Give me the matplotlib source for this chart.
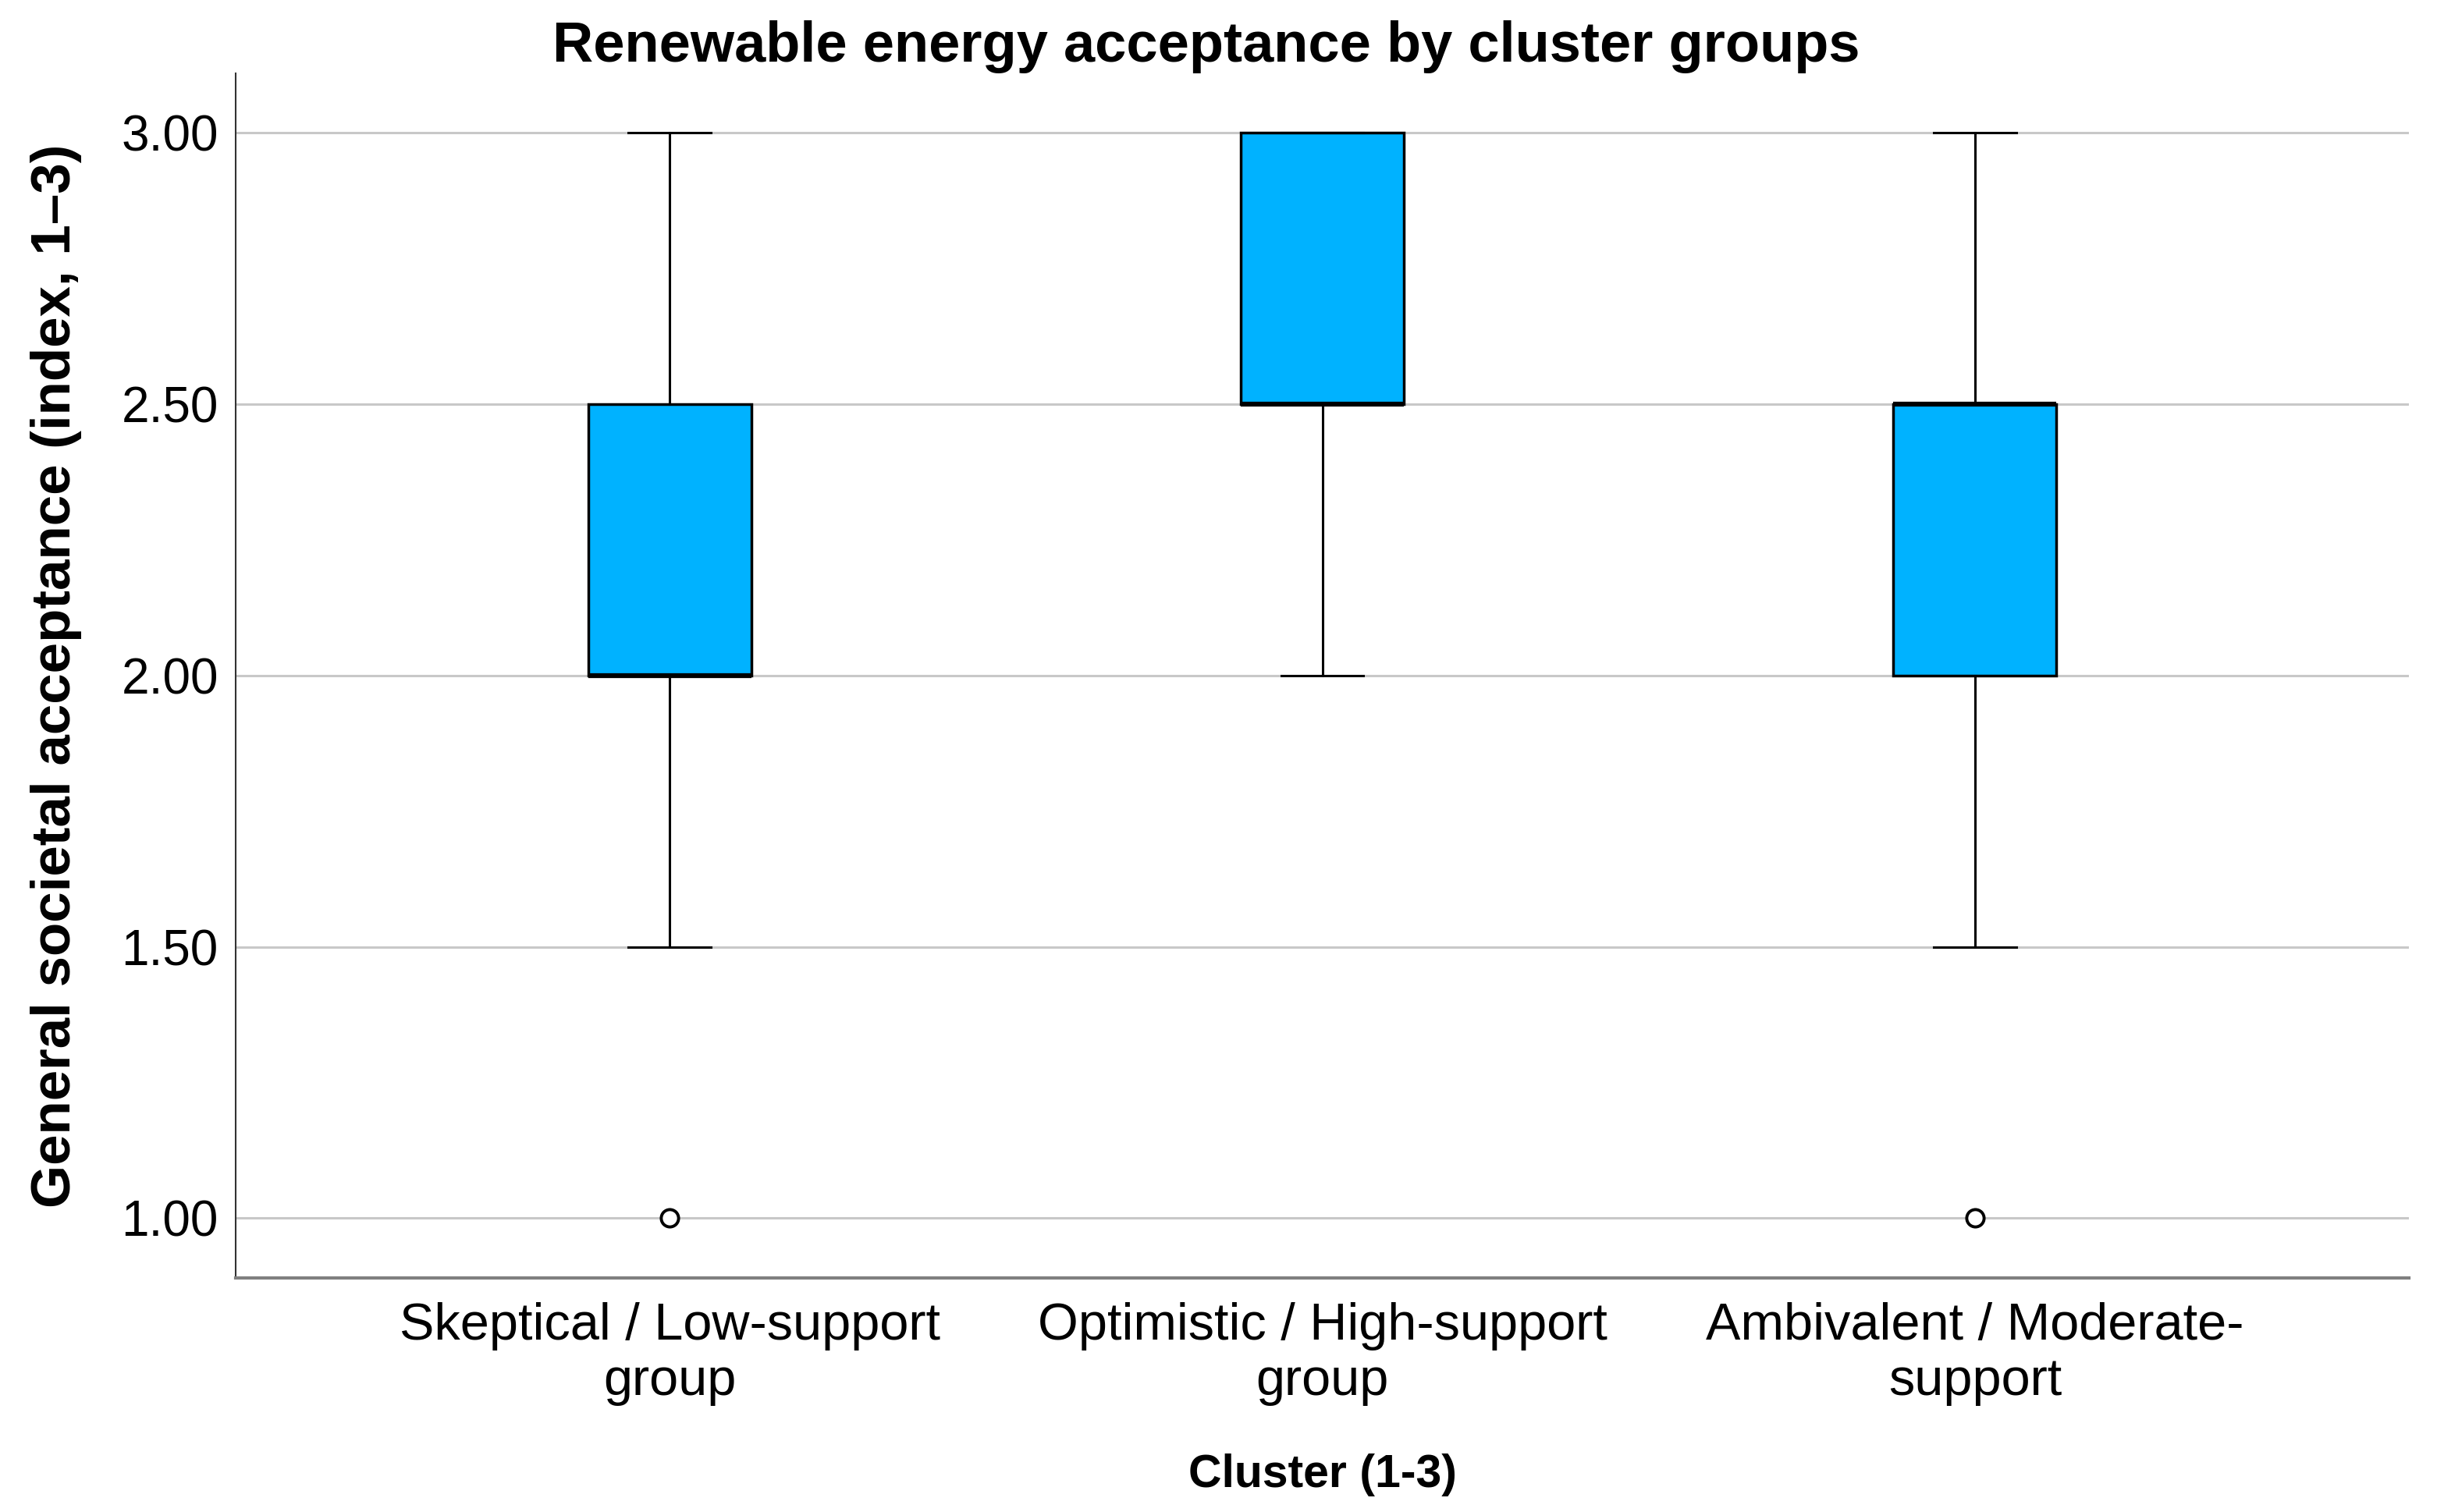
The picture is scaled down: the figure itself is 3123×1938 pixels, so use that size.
import matplotlib
matplotlib.use("Agg")
from matplotlib import pyplot as plt

plt.rcParams['font.family'] = ['Liberation Sans', 'DejaVu Sans']

groups = ["Skeptical / Low-support\ngroup", "Optimistic / High-support\ngroup", "Ambivalent / Moderate-\nsupport"]
whisker_low = [1.5, 2.0, 1.5]
q1 = [2.0, 2.5, 2.0]
median = [2.0, 2.5, 2.5]
q3 = [2.5, 3.0, 2.5]
whisker_high = [3.0, 3.0, 3.0]
outliers = [[1.0], [], [1.0]]
yticks = [1.0, 1.5, 2.0, 2.5, 3.0]

stats = []
for i in range(len(groups)):
    stats.append({"whislo": whisker_low[i], "q1": q1[i], "med": median[i],
                  "q3": q3[i], "whishi": whisker_high[i], "fliers": outliers[i]})

fig = plt.figure(figsize=(31.23, 19.38), dpi=100)
ax = fig.add_axes([0.0967, 0.1548, 0.8918, 0.7967])

ax.set_axisbelow(True)
ax.yaxis.grid(True, color="#c8c8c8", linewidth=2.2)

ax.bxp(stats, positions=[1, 2, 3], widths=0.25, patch_artist=True,
       boxprops=dict(facecolor="#00b2ff", edgecolor="black", linewidth=2.5),
       medianprops=dict(color="black", linewidth=4.5),
       whiskerprops=dict(color="black", linewidth=2.2),
       capprops=dict(color="black", linewidth=2.2),
       capwidths=0.126,
       flierprops=dict(marker="o", markersize=16, markerfacecolor="white",
                       markeredgecolor="black", markeredgewidth=2.8))

ax.set_xlim(0.335, 3.665)
ax.set_ylim(0.89, 3.109)
ax.set_yticks(yticks)
ax.set_yticklabels([f"{v:.2f}" for v in yticks])
ax.set_xticks([1, 2, 3])
ax.set_xticklabels(groups)
ax.tick_params(axis="y", length=0, pad=16, labelsize=46)
ax.tick_params(axis="x", length=0, pad=22, labelsize=48)

for s in ["top", "right"]:
    ax.spines[s].set_visible(False)
ax.spines["left"].set_color("#333333")
ax.spines["left"].set_linewidth(1.5)
ax.spines["bottom"].set_color("#808080")
ax.spines["bottom"].set_linewidth(3)

ax.set_ylabel("General societal acceptance (index, 1–3)", fontsize=51, fontweight="bold", labelpad=36)
ax.set_xlabel("Cluster (1-3)", fontsize=42.5, fontweight="bold", labelpad=44)
fig.text(0.495, 0.969, "Renewable energy acceptance by cluster groups",
         ha="center", va="center", fontsize=52, fontweight="bold")

fig.savefig("out.png", dpi=100)
